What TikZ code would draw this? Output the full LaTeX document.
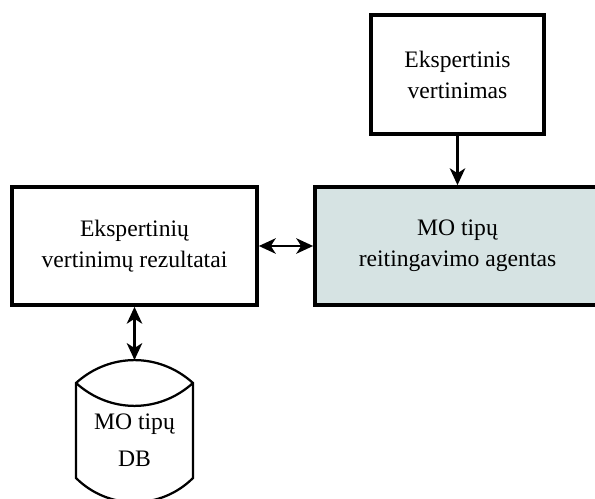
\documentclass[tikz,border=0pt]{standalone}
\usepackage{fontspec}
\setmainfont{Liberation Serif}
\usetikzlibrary{arrows.meta}

\tikzset{>={Stealth[length=12pt,width=11pt,inset=3.5pt]}}
\definecolor{agentcol}{HTML}{D6E3E3}
\tikzstyle{block}=[draw,line width=2.6pt,align=center,inner sep=0pt,
  font=\fontsize{16.8}{22}\selectfont]
\tikzstyle{link}=[line width=1.6pt]
\def\bw{0.025cm} % one pixel of the reference

\begin{document}
\begin{tikzpicture}[x=\bw,y=-\bw]
  \useasboundingbox (0,0) rectangle (595,499);
  \clip (0,0) rectangle (595,499);

  % BOXES
  \node[block,minimum width=4.325cm,minimum height=2.975cm] (eval) at (457.5,74.5)
    {Ekspertinis\\vertinimas};
  \node[block,fill=agentcol,minimum width=7.125cm,minimum height=2.95cm] (agent) at (457.5,246)
    {MO tipų\\reitingavimo agentas};
  \node[block,minimum width=6.125cm,minimum height=2.95cm] (results) at (134.5,246)
    {Ekspertinių\\vertinimų rezultatai};

  % DATABASE
  \node[block,draw=none,minimum width=2.925cm,minimum height=2.375cm,
    font=\fontsize{16.8}{26}\selectfont] (db) at (134.5,440)
    {MO tipų\\DB};
  \coordinate (dbtop) at (134.5,360);
  \draw[link] (134.5-58.5,383) coordinate (dbnw) to[bend left=42] (134.5+58.5,383) coordinate (dbne)
    -- (134.5+58.5,478) to[bend left=45] (134.5-58.5,478) -- cycle;
  \draw[link] (dbnw) to[bend right=42] (dbne);

  % ARROWS
  \draw[link,->] (eval) -- (agent);
  \draw[link,<->] (results) -- (agent);
  \draw[link,<->] (results) -- (dbtop);

\end{tikzpicture}
\end{document}
